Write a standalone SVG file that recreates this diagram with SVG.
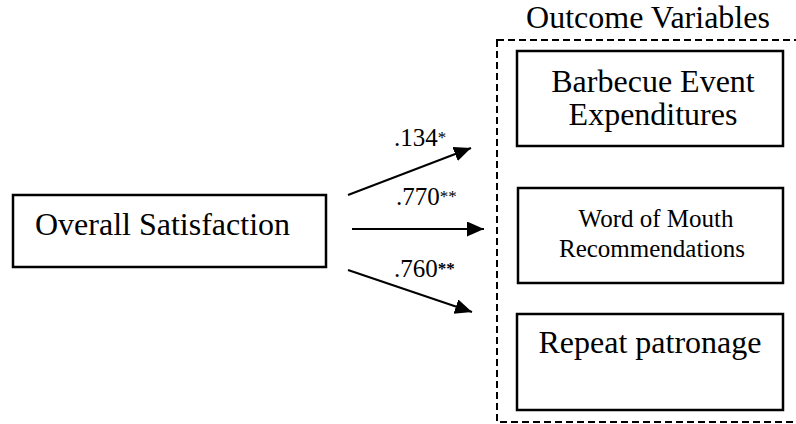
<svg xmlns="http://www.w3.org/2000/svg" width="796" height="424" viewBox="0 0 796 424">
<style>
.box{fill:#fff;stroke:#000;stroke-width:2.5}
.t{font-family:"Liberation Serif","Times New Roman",serif;fill:#000}
.big{font-size:32px}
.mid{font-size:25px}
.lbl{font-size:25px}
.star{font-size:17px}
.bstar{font-size:17px;font-weight:bold}
.arrow{stroke:#000;stroke-width:2;fill:none}
.dash{fill:none;stroke:#000;stroke-width:2;stroke-dasharray:7 4}
</style>
<defs>
<marker id="ah" markerUnits="userSpaceOnUse" markerWidth="18" markerHeight="16" refX="17" refY="7.5" orient="auto">
<path d="M0,0 L17,7.5 L0,15 z" fill="#000"/>
</marker>
</defs>
<rect width="796" height="424" fill="#fff"/>
<g id="outcome-group">
<rect class="dash" x="497" y="40" width="320" height="382"/>
<text class="t big" x="648" y="28" text-anchor="middle">Outcome Variables</text>
</g>
<g id="overall">
<rect class="box" x="13" y="195" width="313" height="72"/>
<text class="t big" x="35" y="235">Overall Satisfaction</text>
</g>
<g id="barbecue">
<rect class="box" x="517" y="51" width="266" height="95"/>
<text class="t big" x="653" y="92" text-anchor="middle">Barbecue Event</text>
<text class="t big" x="653" y="125" text-anchor="middle">Expenditures</text>
</g>
<g id="wom">
<rect class="box" x="518" y="188" width="265" height="95"/>
<text class="t mid" x="656" y="227" text-anchor="middle">Word of Mouth</text>
<text class="t mid" x="652" y="257" text-anchor="middle">Recommendations</text>
</g>
<g id="repeat">
<rect class="box" x="517" y="314" width="266" height="96"/>
<text class="t big" x="650" y="353" text-anchor="middle">Repeat patronage</text>
</g>
<g id="connectors">
<line class="arrow" x1="348" y1="195" x2="471" y2="148" marker-end="url(#ah)"/>
<line class="arrow" x1="352" y1="229" x2="484" y2="229" marker-end="url(#ah)"/>
<line class="arrow" x1="348" y1="270" x2="472" y2="312" marker-end="url(#ah)"/>
<text class="t lbl" x="394" y="146">.134<tspan class="star" dy="-3">*</tspan></text>
<text class="t lbl" x="396" y="205">.770<tspan class="star" dy="-3">**</tspan></text>
<text class="t lbl" x="394" y="277">.760<tspan class="bstar" dy="-3">**</tspan></text>
</g>
</svg>
